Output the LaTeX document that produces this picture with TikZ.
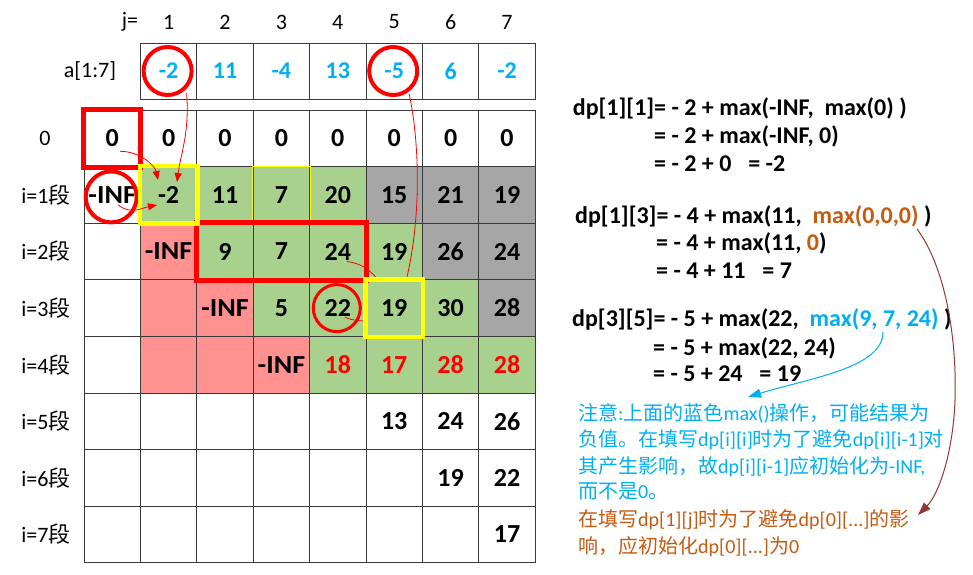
\documentclass[tikz,border=0pt]{standalone}
\usepackage{fontspec}
\usepackage{graphicx}
\setmainfont{Carlito}
\newfontfamily\cjk{Noto Sans CJK SC}
\usetikzlibrary{arrows.meta}
\definecolor{cgreen}{HTML}{A9D18E}
\definecolor{cgray}{HTML}{A6A6A6}
\definecolor{cpink}{HTML}{FF9191}
\definecolor{cblue}{HTML}{00B0F0}
\definecolor{corange}{HTML}{C55A11}
\definecolor{cbrown}{HTML}{943634}
\definecolor{cred}{HTML}{FF0000}
\definecolor{cyel}{HTML}{FFFF00}
\definecolor{cgrid}{HTML}{3A3A3A}
\newcommand\ninf{\scalebox{1.08}[1]{-INF}}
\begin{document}
\begin{tikzpicture}[x=1pt,y=-1pt,
  cell/.style={draw=cgrid, line width=1pt, minimum width=56.4pt, minimum height=56.6pt, inner sep=0pt, font=\bfseries\fontsize{26}{26}\selectfont},
  lab/.style={inner sep=0pt, font=\fontsize{22}{22}\selectfont},
  fml/.style={anchor=base west, inner sep=0pt, font=\bfseries\fontsize{24}{24}\selectfont},
  note/.style={anchor=base west, inner sep=0pt, font=\fontsize{20}{20}\selectfont},
  redcirc/.style={draw=cred, circle, inner sep=0pt, line width=4pt},
  thickred/.style={draw=cred, line width=5pt},
  thickyel/.style={draw=cyel, line width=4.5pt},
  rarrow/.style={cred, line width=0.8pt, -{Triangle[length=9pt,width=7pt]}},
  rline/.style={cred, line width=0.8pt},
  bigarrow/.style={line width=1pt, -{Triangle[length=13pt,width=9pt]}}
]
\useasboundingbox (0,0) rectangle (973,574);
% labels
\node[lab] (jlab) at (130,22) {j=};
\foreach \c in {1,...,7}
  \node[lab] (col\c) at ({84+56.4*(\c+0.5)},22) {\c};
\node[lab] (alab) at (90,71) {a[1:7]};
\node[lab] (r0lab) at (45,138.3) {0};
\foreach \r in {1,...,7}
  \node[lab] (rlab\r) at (46,{110+56.6*(\r+0.5)}) {i=\r{\cjk 段}};
% a row
\foreach \c/\t in {1/-2,2/11,3/-4,4/13,5/-5,6/6,7/-2}
  \node[cell, minimum height=56pt, text=cblue, font=\bfseries\fontsize{24}{24}\selectfont] (a\c) at ({84+56.4*(\c+0.5)},71) {\t};
% main grid
\foreach \r/\c/\f/\t/\k in {
 0/0/white/0/black, 0/1/white/0/black, 0/2/white/0/black, 0/3/white/0/black, 0/4/white/0/black, 0/5/white/0/black, 0/6/white/0/black, 0/7/white/0/black,
 1/0/white/\ninf/black, 1/1/cgreen/-2/black, 1/2/cgreen/11/black, 1/3/cgreen/7/black, 1/4/cgreen/20/black, 1/5/cgray/15/black, 1/6/cgray/21/black, 1/7/cgray/19/black,
 2/0/white/{}/black, 2/1/cpink/\ninf/black, 2/2/cgreen/9/black, 2/3/cgreen/7/black, 2/4/cgreen/24/black, 2/5/cgreen/19/black, 2/6/cgray/26/black, 2/7/cgray/24/black,
 3/0/white/{}/black, 3/1/cpink/{}/black, 3/2/cpink/\ninf/black, 3/3/cgreen/5/black, 3/4/cgreen/22/black, 3/5/cgreen/19/black, 3/6/cgreen/30/black, 3/7/cgray/28/black,
 4/0/white/{}/black, 4/1/cpink/{}/black, 4/2/cpink/{}/black, 4/3/cpink/\ninf/black, 4/4/cgreen/18/cred, 4/5/cgreen/17/cred, 4/6/cgreen/28/cred, 4/7/cgreen/28/cred,
 5/0/white/{}/black, 5/1/white/{}/black, 5/2/white/{}/black, 5/3/white/{}/black, 5/4/white/{}/black, 5/5/white/13/black, 5/6/white/24/black, 5/7/white/26/black,
 6/0/white/{}/black, 6/1/white/{}/black, 6/2/white/{}/black, 6/3/white/{}/black, 6/4/white/{}/black, 6/5/white/{}/black, 6/6/white/19/black, 6/7/white/22/black,
 7/0/white/{}/black, 7/1/white/{}/black, 7/2/white/{}/black, 7/3/white/{}/black, 7/4/white/{}/black, 7/5/white/{}/black, 7/6/white/{}/black, 7/7/white/17/black}
  \node[cell, fill=\f, text=\k] (c\r\c) at ({84+56.4*(\c+0.5)},{110+56.6*(\r+0.5)}) {\t};
\draw[cyel, line width=1pt] (c13.north west) rectangle (c13.south east);
% thin red lines (under yellow boxes)
\coordinate (d1) at (379,281);
\coordinate (d2) at (366,321);
\coordinate (d3) at (406,281);
\draw[rline] ([shift={(9,10)}]c24.center) .. controls +(16,2) and +(-8,-10) .. (d1);
\draw[rline] ([shift={(7,9)}]c34.center) .. controls +(6,3) and +(-6,0) .. (d2);
% circles
\node[redcirc, minimum size=48pt] (ca1) at ([shift={(-1,0)}]a1.center) {};
\node[redcirc, minimum size=48pt] (ca5) at ([shift={(-1,0)}]a5.center) {};
\node[redcirc, minimum size=51pt] (cinf) at ([shift={(-1,2)}]c10.center) {};
\node[redcirc, minimum size=47pt, line width=3pt] (c22c) at ([shift={(-1,0)}]c34.center) {};
\draw[rline] ([shift={(16,23)}]ca5.center) .. controls (421,150) and (420,225) .. (d3);
% thick boxes
\draw[thickred] (c00.north west) rectangle (c00.south east);
\draw[thickred] (c22.north west) rectangle (c24.south east);
\draw[thickyel] (c11.north west) rectangle (c11.south east);
\draw[thickyel] (c35.north west) rectangle (c35.south east);
% red arrows
\coordinate (t1) at (158,180);
\coordinate (t2) at (177,182);
\coordinate (t3) at (157,205);
\draw[rarrow] ([shift={(8,13)}]c00.center) .. controls +(20,0) and +(-3,-14) .. (t1);
\draw[rarrow] ([shift={(19,22)}]ca1.center) .. controls +(3,40) and +(4,-30) .. (t2);
\draw[rarrow] ([shift={(7,8)}]cinf.center) .. controls +(12,10) and +(-15,3) .. (t3);
% formulas
\node[fml] (f1a) at (572.7,115) {dp[1][1]= - 2 + max(-INF,\ \ max(0)\ )};
\node[fml] (f1b) at (654,143) {= - 2 + max(-INF, 0)};
\node[fml] (f1c) at (654,171.5) {= - 2 + 0\hspace{0.7em}= -2};
\node[fml] (f2a) at (575,223) {dp[1][3]= - 4 + max(11,\ \ \textcolor{corange}{max(0,0,0)}\ )};
\node[fml] (f2b) at (656,250) {= - 4 + max(11, \textcolor{corange}{0})};
\node[fml] (f2c) at (656,278) {= - 4 + 11\hspace{0.7em}= 7};
\node[fml] (f3a) at (572,326.7) {dp[3][5]= - 5 + max(22,\ \ \textcolor{cblue}{max(9, 7, 24)}\ )};
\node[fml] (f3b) at (653,355) {= - 5 + max(22, 24)};
\node[fml] (f3c) at (653,381.7) {= - 5 + 24\hspace{0.7em}= 19};
% notes
\node[note, text=cblue] (n1) at (578,420) {{\cjk 注意}:{\cjk 上面的蓝色}max(){\cjk 操作，可能结果为}};
\node[note, text=cblue] (n2) at (578,446.7) {{\cjk 负值。在填写}dp[i][i]{\cjk 时为了避免}dp[i][i-1]{\cjk 对}};
\node[note, text=cblue] (n3) at (578,473) {{\cjk 其产生影响，故}dp[i][i-1]{\cjk 应初始化为}-INF,};
\node[note, text=cblue] (n4) at (578,498.5) {{\cjk 而不是}0{\cjk 。}};
\node[note, text=corange] (n5) at (578,526.5) {{\cjk 在填写}dp[1][j]{\cjk 时为了避免}dp[0][...]{\cjk 的影}};
\node[note, text=corange] (n6) at (578,553) {{\cjk 响，应初始化}dp[0][...]{\cjk 为}0};
% explanation arrows
\coordinate (brs) at (917,229);
\coordinate (brm) at (955,400);
\coordinate (bre) at (918,515);
\draw[bigarrow, cbrown] (brs) .. controls (946,268) and (957,340) .. (brm) .. controls (953,455) and (938,495) .. (bre);
\coordinate (bls) at (883,332);
\coordinate (ble) at (748,397);
\draw[bigarrow, cblue] (bls) .. controls (883,368) and (810,378) .. (ble);
\end{tikzpicture}
\end{document}
